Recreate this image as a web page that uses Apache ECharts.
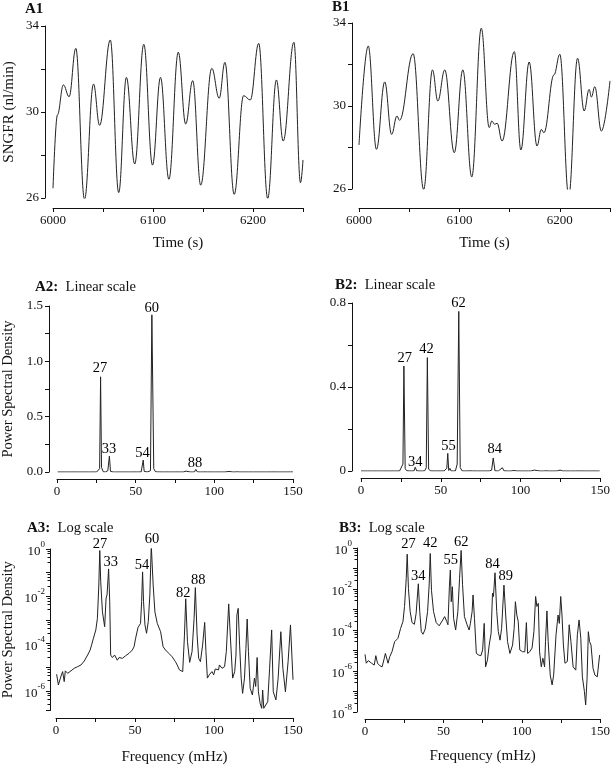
<!DOCTYPE html>
<html><head><meta charset="utf-8">
<script src="https://cdn.jsdelivr.net/npm/echarts@6/dist/echarts.min.js"></script>
<style>html,body{margin:0;padding:0;background:#fff}#c{width:613px;height:766px}</style>
</head><body><div id="c"></div>
<script>
// ---------- data ----------
const timeA1 = [6000, 6004.4, 6010.4, 6016.1, 6022.8, 6031.5, 6040.5, 6046.6, 6057.3, 6065.7, 6073.4, 6081.7, 6090.8, 6099.5, 6107.5, 6115.9, 6125.3, 6132.7, 6139.7, 6147.7, 6158.8, 6166.2, 6171.9, 6181.2, 6190.6, 6197.3, 6205.7, 6214.7, 6223.4, 6230.2, 6240.9, 6247.5, 6250];
const sngfrA1 = [26.45, 29.86, 31.26, 30.71, 32.96, 25.94, 31.30, 29.38, 33.35, 26.25, 31.61, 27.58, 33.15, 27.53, 31.61, 26.87, 32.78, 29.44, 31.46, 26.60, 32.03, 30.64, 32.31, 26.17, 30.76, 30.56, 33.19, 25.98, 31.49, 28.65, 33.24, 26.71, 27.77];

const timeB1 = [6000, 6009.2, 6017.4, 6025.6, 6032.5, 6037.8, 6040.4, 6053.9, 6064.4, 6073.2, 6078.5, 6085.4, 6094.9, 6103.4, 6112.3, 6121.8, 6129.7, 6132.3, 6135.0, 6137.6, 6142.5, 6154.7, 6161.2, 6169.5, 6177.3, 6181.6, 6184.2, 6194.2, 6200.0, 6208.9, 6217.7, 6224.3, 6229.2, 6231.5, 6234.8, 6241.4, 6250];
const sngfrB1 = [28.12, 32.89, 27.91, 31.16, 28.63, 29.52, 29.31, 32.52, 25.98, 31.74, 30.24, 31.74, 27.75, 31.74, 26.58, 33.75, 28.96, 29.28, 29.12, 29.17, 28.31, 32.62, 27.88, 32.12, 28.07, 28.87, 28.71, 31.5, 32.49, 25.66, 32.30, 29.76, 30.80, 30.43, 30.93, 28.79, 31.21];

const freqA = [0.4, 1.5, 3.2, 4.2, 5.2, 5.9, 7.4, 9.5, 11.5, 13.7, 15.8, 17.9, 20, 21.6, 22.5, 23.7, 25.2, 26.2, 27.1, 27.7, 28.3, 29.4, 30.8, 31.7, 32.3, 33.3, 34.0, 34.6, 35.7, 37.1, 38.8, 39.9, 42, 44.1, 46.2, 48.3, 49.4, 50.4, 51.9, 53.5, 54.2, 54.8, 55.4, 56.3, 57.3, 58.4, 59.4, 60.3, 61.5, 62.6, 64.1, 66.2, 67.8, 69.3, 71.4, 73.5, 75.6, 76.7, 78.1, 80.2, 81.3, 82.1, 83.2, 84.6, 86.1, 87.4, 88.2, 89.3, 90.3, 91.4, 92.8, 94.1, 94.9, 95.8, 97, 98.7, 99.8, 100.8, 102.9, 103.4, 105.1, 106.7, 107.8, 109.3, 110.3, 111.8, 113.1, 113.9, 114.5, 115.3, 116.2, 117.2, 118.1, 119.3, 120.2, 121, 121.8, 122.9, 124.3, 125.6, 126.4, 127.3, 128.1, 129.2, 130.2, 130.8, 131.5, 132.7, 134, 135.2, 136.5, 137.5, 139.2, 140.6, 142.3, 143.6, 145.2, 146.9, 148.4, 150];
const psdA = [5.1e-6, 1.8e-6, 4.3e-6, 6.6e-6, 2.5e-6, 7.1e-6, 5.6e-6, 7.1e-6, 9.1e-6, 1.07e-5, 1.26e-5, 1.86e-5, 3.3e-5, 5.4e-5, 8.7e-5, 1.7e-4, 3.8e-4, 1.17e-3, 0.030, 0.86, 0.042, 2.2e-3, 5.2e-4, 8.5e-3, 0.0115, 0.144, 5.9e-3, 3.3e-5, 2.6e-5, 3.3e-5, 2.0e-5, 2.6e-5, 2.4e-5, 3.1e-5, 3.9e-5, 5.4e-5, 7.4e-5, 1.7e-4, 4.8e-4, 7.2e-4, 5.9e-3, 0.108, 5.9e-3, 6.2e-4, 2.75e-4, 8.5e-4, 0.0115, 1.42, 0.030, 2.2e-3, 7.2e-4, 3.2e-4, 7.4e-5, 5.4e-5, 3.9e-5, 2.8e-5, 1.74e-5, 1.26e-5, 7.8e-6, 6.6e-6, 2.3e-4, 7.9e-3, 1.23e-4, 1.62e-5, 4.6e-5, 1.17e-3, 0.0234, 2.3e-4, 2.4e-5, 1.74e-5, 8.7e-5, 7.9e-4, 4.6e-5, 3.5e-6, 4.8e-6, 6.6e-6, 4.8e-6, 8.5e-6, 7.8e-6, 1.26e-5, 9.1e-6, 1.07e-5, 4.6e-5, 4.8e-3, 2.3e-4, 3.5e-6, 6.6e-6, 3.3e-5, 1.62e-3, 3.1e-3, 8.7e-5, 3.5e-6, 7.9e-7, 3.5e-6, 6.3e-5, 1.1e-3, 4.6e-5, 1.3e-6, 6.8e-7, 3.5e-6, 1.55e-6, 2.6e-5, 9.3e-7, 3.0e-7, 1.86e-7, 1.1e-6, 1.86e-7, 2.2e-7, 3.5e-7, 9.1e-6, 3.8e-4, 9.3e-7, 4.2e-7, 3.5e-6, 3.2e-4, 9.1e-6, 9.3e-7, 1.74e-5, 6.2e-4, 3.0e-6];

const freqB = [0, 0.8, 2.1, 4.2, 5.9, 6.9, 8, 9.5, 10.9, 12.2, 13, 14.1, 14.7, 15.8, 17.2, 18.9, 20, 21, 22.7, 24.2, 25.2, 26.3, 26.9, 27.7, 28.8, 30, 31.5, 32.6, 33.2, 34, 34.9, 35.9, 37, 38.4, 39.9, 40.9, 41.6, 42.4, 43.7, 45.4, 47.3, 48.3, 49.6, 50.8, 52.1, 52.9, 53.8, 54.4, 55, 55.7, 56.5, 57.8, 59.2, 60.3, 61.3, 62.2, 63.4, 65.1, 66.4, 67.2, 68.3, 68.9, 69.8, 71, 72.5, 73.9, 75, 76, 76.9, 78.1, 79.2, 80.4, 81.3, 81.9, 82.9, 84, 85, 86.1, 87.1, 88.6, 89.7, 90.9, 92.4, 94.1, 95.1, 95.9, 96.8, 97.7, 98.7, 100.4, 101.9, 102.9, 103.7, 105, 106.5, 107.7, 108.8, 109.6, 110.5, 111.3, 112.4, 113.4, 114.5, 115.1, 116, 116.8, 118.1, 119.3, 120.3, 121.8, 123.1, 123.9, 124.8, 125.6, 126.5, 127.5, 129, 130.2, 131.3, 132.7, 134.4, 135.4, 136.5, 137.6, 138.6, 139.9, 140.7, 141.6, 142.4, 143.2, 144.1, 145.4, 146.6, 148.1, 149.6];
const psdB = [6.5e-6, 2.4e-6, 3.2e-6, 2.4e-6, 1.95e-6, 5.6e-6, 2.4e-6, 1.8e-6, 1.6e-6, 3.9e-6, 7.2e-6, 6.0e-6, 2.4e-6, 5.0e-6, 8.7e-6, 2.7e-5, 2.9e-5, 3.9e-5, 1.2e-4, 2.6e-4, 1.4e-3, 0.033, 0.50, 0.0107, 7.9e-4, 2.3e-4, 1.9e-4, 6.5e-4, 5.4e-4, 0.018, 7.9e-4, 8.3e-5, 6.2e-5, 1.12e-4, 7.9e-4, 0.0155, 0.54, 8.5e-3, 7.9e-4, 2.3e-4, 1.6e-4, 1.45e-4, 3.1e-4, 4.5e-4, 2.6e-4, 1.8e-4, 0.0129, 0.084, 2.4e-3, 0.0129, 3.7e-4, 1.0e-4, 7.9e-4, 0.033, 0.76, 0.0162, 4.5e-4, 1.8e-4, 1.0e-4, 2.1e-4, 7.9e-4, 5.1e-3, 3.7e-4, 7.2e-6, 6.0e-6, 5.6e-6, 1.07e-5, 2.1e-4, 1.6e-6, 3.5e-6, 1.86e-5, 6.9e-5, 6.2e-3, 4.3e-3, 0.062, 7.9e-4, 8.3e-5, 3.2e-5, 1.2e-4, 0.0155, 5.4e-4, 2.7e-5, 7.2e-6, 1.86e-5, 1.2e-4, 2.4e-3, 5.4e-4, 2.6e-4, 1.07e-5, 8.7e-6, 8.7e-6, 2.3e-4, 7.2e-6, 8.7e-6, 1.3e-5, 8.3e-5, 4.3e-3, 1.4e-3, 2.0e-3, 8.7e-6, 1.6e-6, 4.2e-6, 1.6e-6, 2.7e-5, 8.5e-4, 2.7e-5, 6.3e-7, 2.1e-7, 6.3e-7, 5.8e-5, 5.4e-4, 2.1e-4, 4.3e-3, 5.4e-4, 1.86e-5, 2.4e-6, 2.9e-6, 1.8e-4, 2.7e-5, 1.6e-6, 1.1e-6, 5.8e-5, 3.1e-4, 3.9e-5, 5.2e-7, 1.0e-7, 2.2e-8, 4.4e-7, 8.3e-5, 2.7e-5, 1.86e-5, 1.35e-6, 6.3e-7, 5.2e-7, 6.0e-6];

// peak annotations (text + data-space anchor)
const peakTextA2 = ['27', '33', '54', '60', '88'];
const peakAtA2 = [[27.3, 0.937], [33.1, 0.21], [54.4, 0.169], [60.3, 1.48], [87.7, 0.084]];
const peakTextB2 = ['27', '34', '42', '55', '62', '84'];
const peakAtB2 = [[27.4, 0.535], [34.0, 0.043], [41.1, 0.581], [54.8, 0.119], [61.2, 0.797], [83.8, 0.105]];
const peakTextA3 = ['27', '33', '54', '60', '82', '88'];
const peakAtA3 = [[27.9, 1.58], [34.7, 0.28], [54.4, 0.204], [60.7, 2.6], [80.5, 0.0142], [90.1, 0.048]];
const peakTextB3 = ['27', '34', '42', '55', '62', '84', '89'];
const peakAtB3 = [[27.7, 1.62], [34.0, 0.04], [41.6, 1.7], [54.6, 0.26], [61.3, 2.0], [81.3, 0.166], [89.7, 0.042]];

// ---------- chart ----------
const F = 'Liberation Serif';
const INK = '#111';
const pairs = (xs, ys) => xs.map((x, i) => [x, ys[i]]);
function stepFmt(base, step, fmt) {
  return v => { const k = (v - base) / step; return Math.abs(k - Math.round(k)) < 1e-6 ? fmt(v) : ''; };
}
function axisBase(gridIndex, extra) {
  return Object.assign({
    gridIndex,
    axisLine: {show: true, onZero: false, lineStyle: {color: INK, width: 1}},
    axisTick: {show: true, inside: false, length: 4, lineStyle: {color: INK, width: 1}},
    splitLine: {show: false},
    nameLocation: 'middle',
    nameTextStyle: {fontFamily: F, fontSize: 15, color: INK}
  }, extra);
}
function lab(formatter, extra) {
  return Object.assign({fontFamily: F, fontSize: 13, color: INK, margin: 6, formatter, showMinLabel: true, showMaxLabel: true}, extra || {});
}
function logFmt(v) {
  const e = Math.log10(v); const r = Math.round(e);
  if (Math.abs(e - r) > 1e-6 || r % 2 !== 0) return '';
  return '{b|10}{s|' + r + '}';
}
const logRich = {
  b: {fontFamily: F, fontSize: 13, color: INK, lineHeight: 18, verticalAlign: 'bottom'},
  s: {fontFamily: F, fontSize: 9, color: INK, lineHeight: 18, verticalAlign: 'top'}
};

const grids = [
  {left: 53, top: 26, width: 250, height: 172},   // A1
  {left: 359, top: 23, width: 253, height: 166},  // B1
  {left: 56, top: 306, width: 237, height: 166},  // A2
  {left: 361, top: 303, width: 241, height: 168}, // B2
  {left: 55, top: 549, width: 238, height: 161.5},// A3
  {left: 365, top: 548, width: 238, height: 164}  // B3
];

const timeX = (g, off) => axisBase(g, {type: 'value', min: 6000, max: 6250, interval: 50, offset: off,
  name: 'Time (s)', nameGap: 28, axisLabel: lab(stepFmt(6000, 100, v => String(v)))});
const freqX = (g, off, name, gap) => axisBase(g, {type: 'value', min: 0, max: 150, interval: 25, offset: off,
  name: name, nameGap: gap, axisLabel: lab(stepFmt(0, 50, v => String(v)))});

const xAxes = [
  timeX(0, 10), timeX(1, 19),
  freqX(2, 7, '', 0), freqX(3, 7, '', 0),
  freqX(4, 7.5, 'Frequency (mHz)', 32), freqX(5, 7, 'Frequency (mHz)', 30)
];
const yAxes = [
  axisBase(0, {type: 'value', min: 26, max: 34, interval: 2, offset: 8, name: 'SNGFR (nl/min)', nameGap: 28,
    axisLabel: lab(stepFmt(26, 4, v => String(v)))}),
  axisBase(1, {type: 'value', min: 26, max: 34, interval: 2, offset: 7,
    axisLabel: lab(stepFmt(26, 4, v => String(v)))}),
  axisBase(2, {type: 'value', min: 0, max: 1.5, interval: 0.25, offset: 8, name: 'Power Spectral Density', nameGap: 33,
    nameTextStyle: {fontFamily: F, fontSize: 14.5, color: INK},
    axisLabel: lab(stepFmt(0, 0.5, v => v.toFixed(1)))}),
  axisBase(3, {type: 'value', min: 0, max: 0.8, interval: 0.2, offset: 9,
    axisLabel: lab(stepFmt(0, 0.4, v => v === 0 ? '0' : v.toFixed(1)))}),
  axisBase(4, {type: 'log', logBase: 10, min: 1.5e-7, max: 1, splitNumber: 7, offset: 6, name: 'Power Spectral Density', nameGap: 34,
    nameTextStyle: {fontFamily: F, fontSize: 14.5, color: INK},
    minorTick: {show: true, splitNumber: 5, length: 2.5, lineStyle: {color: INK}},
    axisLabel: lab(logFmt, {rich: logRich, margin: 5})}),
  axisBase(5, {type: 'log', logBase: 10, min: 1e-8, max: 1, splitNumber: 8, offset: 8,
    minorTick: {show: true, splitNumber: 5, length: 2.5, lineStyle: {color: INK}},
    axisLabel: lab(logFmt, {rich: logRich, margin: 5})})
];

const lineStyle = {color: '#222', width: 1};
function lineSeries(i, data, smooth) {
  const s = {type: 'line', xAxisIndex: i, yAxisIndex: i, data, symbol: 'none', lineStyle, silent: true, animation: false};
  if (smooth) { s.smooth = 0.4; s.smoothMonotone = 'x'; }
  return s;
}
function peakSeries(i, txt, at) {
  return {type: 'scatter', xAxisIndex: i, yAxisIndex: i, clip: false, symbolSize: 0, silent: true, animation: false,
    itemStyle: {opacity: 1, color: INK},
    data: at.map((p, k) => ({value: p, name: txt[k]})),
    label: {show: true, position: 'inside', formatter: p => p.name, fontFamily: F, fontSize: 14.5,
      color: '#000', opacity: 1, textBorderWidth: 0}};
}

const titleStyle = {
  fontFamily: F, fontSize: 14.5, color: INK, fontWeight: 'normal',
  rich: {
    b: {fontFamily: F, fontSize: 15, fontWeight: 'bold', color: INK},
    n: {fontFamily: F, fontSize: 14.5, fontWeight: 'normal', color: INK}
  }
};
const titles = [
  {text: '{b|A1}', left: 25, top: 2},
  {text: '{b|B1}', left: 332, top: 0},
  {text: '{b|A2:}{n|  Linear scale}', left: 35, top: 280},
  {text: '{b|B2:}{n|  Linear scale}', left: 335, top: 278},
  {text: '{b|A3:}{n|  Log scale}', left: 27, top: 521},
  {text: '{b|B3:}{n|  Log scale}', left: 339, top: 521}
].map(t => Object.assign({padding: 0, textStyle: titleStyle}, t));

const option = {
  backgroundColor: '#fff',
  animation: false,
  title: titles,
  grid: grids,
  xAxis: xAxes,
  yAxis: yAxes,
  series: [
    lineSeries(0, pairs(timeA1, sngfrA1), true),
    lineSeries(1, pairs(timeB1, sngfrB1), true),
    lineSeries(2, pairs(freqA, psdA), false),
    lineSeries(3, pairs(freqB, psdB), false),
    lineSeries(4, pairs(freqA, psdA), false),
    lineSeries(5, pairs(freqB, psdB), false),
    peakSeries(2, peakTextA2, peakAtA2),
    peakSeries(3, peakTextB2, peakAtB2),
    peakSeries(4, peakTextA3, peakAtA3),
    peakSeries(5, peakTextB3, peakAtB3)
  ]
};
const chart = echarts.init(document.getElementById('c'), null, {renderer: 'canvas'});
chart.setOption(option);
</script>
</body></html>
